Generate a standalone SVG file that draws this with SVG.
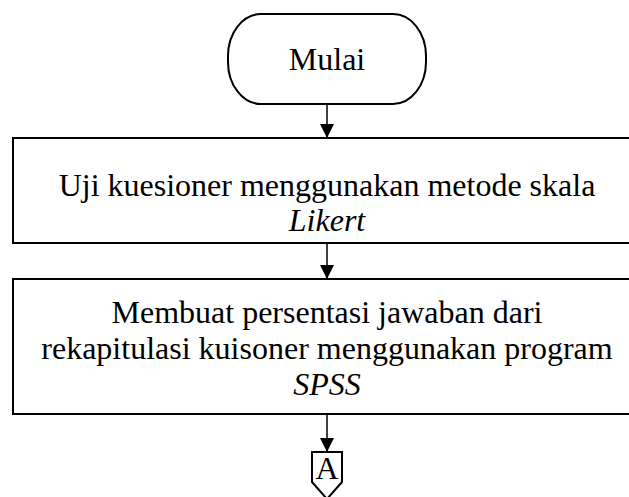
<svg xmlns="http://www.w3.org/2000/svg" width="629" height="497" viewBox="0 0 629 497">
  <style>
    .shape { fill: #ffffff; stroke: #000000; stroke-width: 2; }
    .edge { fill: none; stroke: #000000; stroke-width: 1.5; }
    .label { font-family: "Liberation Serif", "Times New Roman", serif; font-size: 32px; fill: #000000; text-anchor: middle; }
    .it { font-style: italic; }
  </style>
  <defs>
    <marker id="arrow" viewBox="0 0 14 14" refX="14" refY="7" markerWidth="14" markerHeight="14" markerUnits="userSpaceOnUse" orient="auto">
      <path d="M0,0 L14,7 L0,14 Z" fill="#000000"/>
    </marker>
  </defs>
  <rect width="629" height="497" fill="#ffffff"/>

  <g id="connectors">
    <line class="edge" x1="327" y1="104" x2="327" y2="138" marker-end="url(#arrow)"/>
    <line class="edge" x1="327" y1="243" x2="327" y2="279" marker-end="url(#arrow)"/>
    <line class="edge" x1="327" y1="414" x2="327" y2="452" marker-end="url(#arrow)"/>
  </g>

  <g id="start">
    <rect class="shape" x="228" y="14" width="198" height="90" rx="33" ry="42"/>
    <text class="label" x="327" y="70">Mulai</text>
  </g>

  <g id="uji-kuesioner">
    <rect class="shape" x="13" y="138" width="628" height="105"/>
    <text class="label" x="327" y="196">Uji kuesioner menggunakan metode skala</text>
    <text class="label it" x="327" y="231">Likert</text>
  </g>

  <g id="persentasi-jawaban">
    <rect class="shape" x="13" y="279" width="628" height="135"/>
    <text class="label" x="327" y="323">Membuat persentasi jawaban dari</text>
    <text class="label" x="327" y="359">rekapitulasi kuisoner menggunakan program</text>
    <text class="label it" x="327" y="395">SPSS</text>
  </g>

  <g id="connector-a">
    <path class="shape" d="M312,452 L342,452 L342,482 L327,499 L312,482 Z"/>
    <text class="label" x="327" y="479">A</text>
  </g>
</svg>
